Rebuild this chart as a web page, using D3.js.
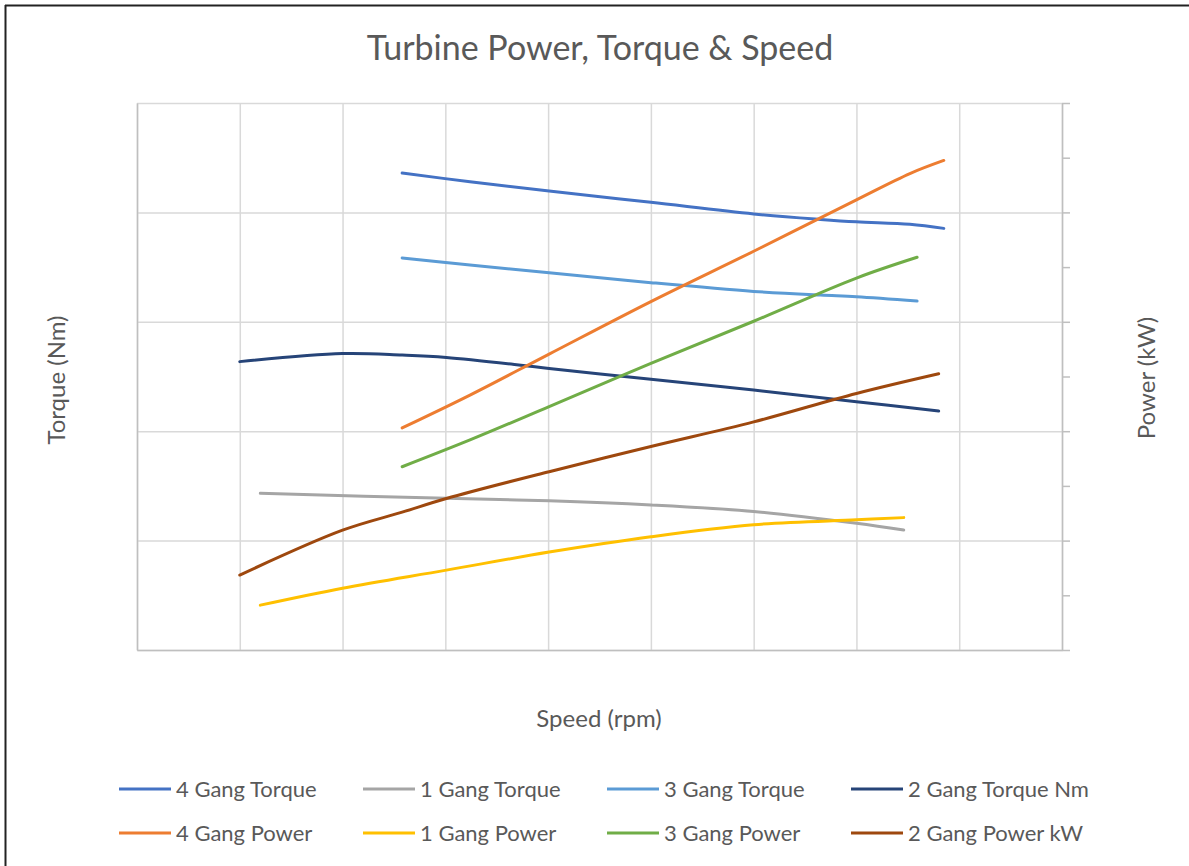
<!DOCTYPE html>
<html><head><meta charset="utf-8">
<script src="https://cdn.jsdelivr.net/npm/d3@7"></script>
<style>body{margin:0;background:#fff}svg{display:block}text{font-family:Lato,"Open Sans",sans-serif;fill:#595959}</style>
</head><body><svg id="c" width="1189" height="866"></svg>
<script>
const title = "Turbine Power, Torque & Speed";
const xTitle = "Speed (rpm)", yTitle = "Torque (Nm)", y2Title = "Power (kW)";
const xTicks = [0,100,200,300,400,500,600,700,800,900];
const yTicks = [0,50,100,150,200,250];
const y2Ticks = [0,1,2,3,4,5,6,7,8,9,10];

const torque4 = [[258,218.0],[324,214.0],[401,209.8],[500,204.6],[600,199.3],[665,196.8],[700,195.7],[752,194.6],[785,192.7]];
const torque1 = [[120,71.6],[301,69.3],[401,68.2],[500,66.3],[600,63.3],[700,57.9],[746,54.8]];
const torque3 = [[258,179.2],[324,176.0],[401,172.4],[500,167.9],[600,163.9],[665,162.2],[700,161.5],[759,159.5]];
const torque2 = [[100,131.8],[200,135.5],[258,134.8],[301,133.7],[401,128.7],[500,123.7],[600,118.8],[700,113.5],[780,109.2]];
const power4 = [[258,4.06],[324,4.66],[401,5.41],[500,6.37],[600,7.29],[700,8.23],[752,8.71],[785,8.95]];
const power1 = [[120,0.82],[200,1.13],[301,1.46],[401,1.79],[500,2.07],[600,2.29],[700,2.38],[746,2.42]];
const power3 = [[258,3.35],[324,3.84],[401,4.45],[500,5.24],[600,6.01],[700,6.80],[759,7.18]];
const power2 = [[100,1.37],[200,2.19],[258,2.52],[301,2.77],[401,3.26],[500,3.72],[600,4.17],[700,4.69],[780,5.05]];

const series = [
  {name:"4 Gang Torque", data:torque4, axis:"y", color:"#4472C4"},
  {name:"1 Gang Torque", data:torque1, axis:"y", color:"#A5A5A5"},
  {name:"3 Gang Torque", data:torque3, axis:"y", color:"#5B9BD5"},
  {name:"2 Gang Torque Nm", data:torque2, axis:"y", color:"#264478"},
  {name:"4 Gang Power", data:power4, axis:"y2", color:"#ED7D31"},
  {name:"1 Gang Power", data:power1, axis:"y2", color:"#FFC000"},
  {name:"3 Gang Power", data:power3, axis:"y2", color:"#70AD47"},
  {name:"2 Gang Power kW", data:power2, axis:"y2", color:"#9E480E"}
];

const svg = d3.select("#c");
const L=137, R=1062, T=103, B=650;
const x = d3.scaleLinear().domain([0,900]).range([L,R]);
const y = d3.scaleLinear().domain([0,250]).range([B,T]);
const y2 = d3.scaleLinear().domain([0,10]).range([B,T]);

// frame
svg.append("line").attr("x1",5).attr("y1",5.5).attr("x2",1189).attr("y2",5.5).attr("stroke","#222").attr("stroke-width",2);
svg.append("line").attr("x1",5.5).attr("y1",5).attr("x2",5.5).attr("y2",866).attr("stroke","#222").attr("stroke-width",2);

// grid
const g = svg.append("g");
g.append("g").attr("transform",`translate(0,${B})`)
  .call(d3.axisBottom(x).tickValues(xTicks).tickSize(-(B-T)).tickFormat(""))
  .call(s=>{s.select(".domain").remove(); s.selectAll("line").attr("stroke","#d9d9d9").attr("stroke-width",1.5);});
g.append("g").attr("transform",`translate(${L},0)`)
  .call(d3.axisLeft(y).tickValues(yTicks).tickSize(-(R-L)).tickFormat(""))
  .call(s=>{s.select(".domain").remove(); s.selectAll("line").attr("stroke","#d9d9d9").attr("stroke-width",1.5);});
// axes lines
g.append("g").attr("transform",`translate(${L},0)`)
  .call(d3.axisLeft(y).tickValues([]).tickSizeOuter(0))
  .call(s=>s.select(".domain").attr("stroke","#bfbfbf").attr("stroke-width",1.5));
g.append("g").attr("transform",`translate(0,${B})`)
  .call(d3.axisBottom(x).tickValues([]).tickSizeOuter(0))
  .call(s=>s.select(".domain").attr("stroke","#bfbfbf").attr("stroke-width",1.5));
g.append("g").attr("transform",`translate(${R},0)`)
  .call(d3.axisRight(y2).tickValues(y2Ticks).tickSize(8).tickSizeOuter(0).tickFormat(""))
  .call(s=>{s.select(".domain").attr("stroke","#bfbfbf").attr("stroke-width",1.5); s.selectAll("line").attr("stroke","#bfbfbf").attr("stroke-width",1.5);});

// lines
const curve = d3.curveCatmullRom.alpha(0.5);
series.forEach(s=>{
  const ys = s.axis==="y"? y : y2;
  const line = d3.line().x(d=>x(d[0])).y(d=>ys(d[1])).curve(curve);
  svg.append("path").datum(s.data).attr("d",line).attr("fill","none")
    .attr("stroke",s.color).attr("stroke-width",3).attr("stroke-linecap","round");
});

// titles
svg.append("text").attr("x",600).attr("y",60).attr("text-anchor","middle").attr("font-size",34).text(title);
svg.append("text").attr("x",599).attr("y",727).attr("text-anchor","middle").attr("font-size",24).text(xTitle);
svg.append("text").attr("transform","translate(65,380) rotate(-90)").attr("text-anchor","middle").attr("font-size",24).text(yTitle);
svg.append("text").attr("transform","translate(1155,378) rotate(-90)").attr("text-anchor","middle").attr("font-size",24).text(y2Title);

// legend
const colX = [119,363,607,851], rowY = [789,833];
series.forEach((s,i)=>{
  const cx = colX[i%4], cy = rowY[Math.floor(i/4)];
  svg.append("line").attr("x1",cx).attr("x2",cx+52).attr("y1",cy).attr("y2",cy)
    .attr("stroke",s.color).attr("stroke-width",3);
  svg.append("text").attr("x",cx+57).attr("y",cy+8).attr("font-size",22).text(s.name);
});
</script></body></html>
